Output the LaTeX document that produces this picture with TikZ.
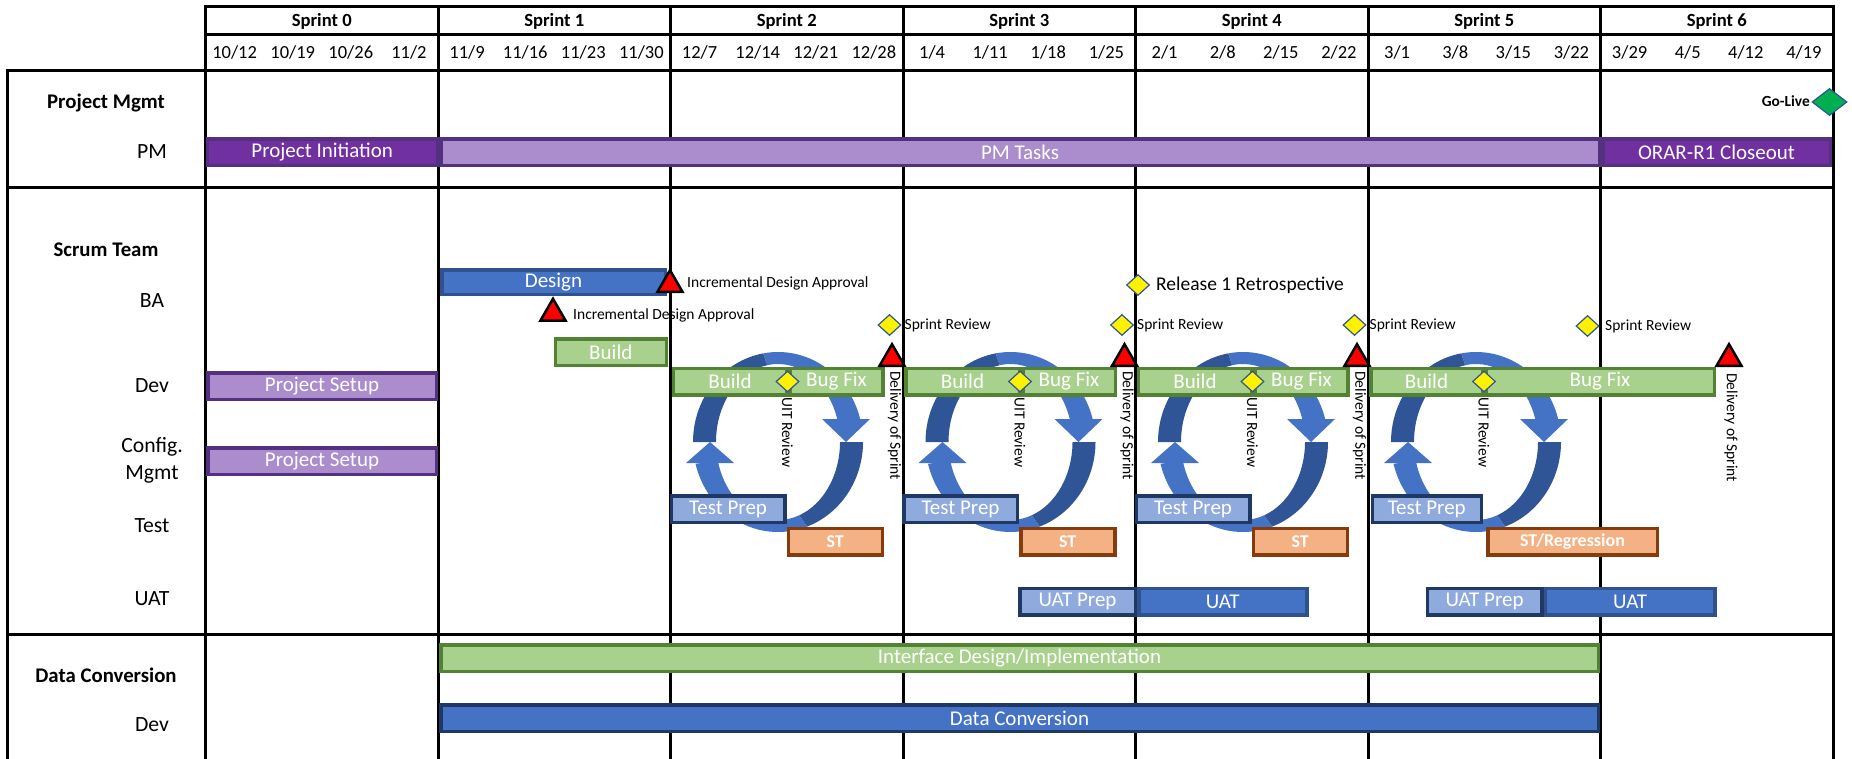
\documentclass[tikz,border=0pt]{standalone}
\usepackage{fontspec}
\setmainfont{Carlito}
\usetikzlibrary{shapes.geometric}
\definecolor{pmdark}{RGB}{112,48,160}
\definecolor{pmlight}{RGB}{171,140,204}
\definecolor{pmline}{RGB}{84,48,128}
\definecolor{bablue}{RGB}{68,114,196}
\definecolor{baline}{RGB}{47,82,143}
\definecolor{prepblue}{RGB}{143,170,220}
\definecolor{navy}{RGB}{32,56,100}
\definecolor{devgreen}{RGB}{169,209,142}
\definecolor{devline}{RGB}{84,130,53}
\definecolor{storange}{RGB}{244,177,131}
\definecolor{stline}{RGB}{132,60,12}
\definecolor{loopdark}{RGB}{47,85,151}
\definecolor{golive}{RGB}{0,176,80}
\begin{document}
\begin{tikzpicture}[x=1pt,y=1pt]
	\tikzstyle{every node}+=[inner sep=0pt]
	\tikzstyle{rule}=[black, line width=3pt, line cap=rect]
	\tikzstyle{bar}=[draw, line width=3.5pt, minimum height=26.5pt, text=white, font={\fontsize{21}{24}\selectfont}]
	\tikzstyle{purplebar}=[bar, fill=pmdark, draw=pmline]
	\tikzstyle{lilacbar}=[bar, fill=pmlight, draw=pmline]
	\tikzstyle{bluebar}=[bar, fill=bablue, draw=baline]
	\tikzstyle{greenbar}=[bar, fill=devgreen, draw=devline]
	\tikzstyle{prepbar}=[bar, fill=prepblue, draw=navy]
	\tikzstyle{stbar}=[bar, fill=storange, draw=stline, font={\fontsize{18}{21}\selectfont\bfseries}]
	\tikzstyle{milestone}=[regular polygon, regular polygon sides=3, draw=black, line width=2.5pt, fill=red, minimum size=29pt]
	\tikzstyle{gate}=[diamond, draw=loopdark, line width=1.2pt, fill=yellow, minimum width=23pt, minimum height=21pt]
	\tikzstyle{sprint}=[font={\fontsize{18.6}{22}\selectfont\bfseries}]
	\tikzstyle{week}=[font={\fontsize{18.5}{22}\selectfont}]
	\tikzstyle{team}=[font={\fontsize{20.8}{24}\selectfont\bfseries}]
	\tikzstyle{role}=[font={\fontsize{21.7}{27}\selectfont}]
	\tikzstyle{note}=[anchor=west, font={\fontsize{15.5}{18}\selectfont}]
	\tikzstyle{vnote}=[note, rotate=-90]
	\useasboundingbox (0,0) rectangle (1852,-758);
	\fill [white] (0,0) rectangle (1852,-758);
	% grid
	\draw [rule] (205.5,-6) -- (1833,-6);
	\draw [rule] (205.5,-34) -- (1833,-34);
	\draw [rule] (7,-70) -- (1833,-70);
	\draw [rule] (7,-187) -- (1833,-187);
	\draw [rule] (7,-634) -- (1833,-634);
	\draw [rule] (7,-70) -- (7,-760);
	\draw [rule] (205.5,-6) -- (205.5,-760);
	\draw [rule] (438,-6) -- (438,-760);
	\draw [rule] (670.5,-6) -- (670.5,-760);
	\draw [rule] (903,-6) -- (903,-760);
	\draw [rule] (1135.5,-6) -- (1135.5,-760);
	\draw [rule] (1368,-6) -- (1368,-760);
	\draw [rule] (1600.5,-6) -- (1600.5,-760);
	\draw [rule] (1833,-6) -- (1833,-760);
	% header
	\node [sprint] (sp0) at (321.75,-21) {Sprint 0};
	\node [sprint] (sp1) at (554.25,-21) {Sprint 1};
	\node [sprint] (sp2) at (786.75,-21) {Sprint 2};
	\node [sprint] (sp3) at (1019.25,-21) {Sprint 3};
	\node [sprint] (sp4) at (1251.75,-21) {Sprint 4};
	\node [sprint] (sp5) at (1484.25,-21) {Sprint 5};
	\node [sprint] (sp6) at (1716.75,-21) {Sprint 6};
	\node [week] (wk0) at (234.6,-52) {10/12};
	\node [week] (wk1) at (292.7,-52) {10/19};
	\node [week] (wk2) at (350.8,-52) {10/26};
	\node [week] (wk3) at (408.9,-52) {11/2};
	\node [week] (wk4) at (467.1,-52) {11/9};
	\node [week] (wk5) at (525.2,-52) {11/16};
	\node [week] (wk6) at (583.3,-52) {11/23};
	\node [week] (wk7) at (641.4,-52) {11/30};
	\node [week] (wk8) at (699.6,-52) {12/7};
	\node [week] (wk9) at (757.7,-52) {12/14};
	\node [week] (wk10) at (815.8,-52) {12/21};
	\node [week] (wk11) at (873.9,-52) {12/28};
	\node [week] (wk12) at (932.1,-52) {1/4};
	\node [week] (wk13) at (990.2,-52) {1/11};
	\node [week] (wk14) at (1048.3,-52) {1/18};
	\node [week] (wk15) at (1106.4,-52) {1/25};
	\node [week] (wk16) at (1164.6,-52) {2/1};
	\node [week] (wk17) at (1222.7,-52) {2/8};
	\node [week] (wk18) at (1280.8,-52) {2/15};
	\node [week] (wk19) at (1338.9,-52) {2/22};
	\node [week] (wk20) at (1397.1,-52) {3/1};
	\node [week] (wk21) at (1455.2,-52) {3/8};
	\node [week] (wk22) at (1513.3,-52) {3/15};
	\node [week] (wk23) at (1571.4,-52) {3/22};
	\node [week] (wk24) at (1629.6,-52) {3/29};
	\node [week] (wk25) at (1687.7,-52) {4/5};
	\node [week] (wk26) at (1745.8,-52) {4/12};
	\node [week] (wk27) at (1803.9,-52) {4/19};
	% row labels
	\node [team] (pmgmt) at (106,-103) {Project Mgmt};
	\node [role] (pm) at (152,-152) {PM};
	\node [team] (scrum) at (106,-250) {Scrum Team};
	\node [role] (ba) at (152,-301) {BA};
	\node [role] (dev) at (152,-386) {Dev};
	\node [role, align=center] (cfg) at (152,-460.5) {Config.\\Mgmt};
	\node [role] (test) at (152,-526) {Test};
	\node [role] (uat) at (152,-599) {UAT};
	\node [team] (dconv) at (106,-675) {Data Conversion};
	\node [role] (dcdev) at (152,-725) {Dev};
	% project mgmt
	\node [purplebar, minimum width=230pt] (pinit) at (322.25,-152) {Project Initiation};
	\node [lilacbar, minimum width=1158.5pt] (pmtasks) at (1020,-152) {PM Tasks};
	\node [purplebar, minimum width=227.5pt] (closeout) at (1716.5,-152) {ORAR-R1 Closeout};
	\node [diamond, draw=loopdark, line width=1.2pt, fill=golive, minimum width=35pt, minimum height=27pt] (golive) at (1829.5,-102) {};
	\node [anchor=east, font={\fontsize{15.4}{18}\selectfont\bfseries}] (golivenote) at (1810,-101) {Go-Live};
	% sprint 1
	\node [bluebar, minimum width=223.5pt, minimum height=24.5pt] (design) at (553.5,-282) {Design};
	\node [milestone] (idapp1) at (670,-284.7) {};
	\node [note] (idnote1) at (687,-283) {Incremental Design Approval};
	\node [milestone] (idapp2) at (553,-313.3) {};
	\node [note] (idnote2) at (573,-315) {Incremental Design Approval};
	\node [greenbar, minimum width=111pt] (build1) at (610.8,-352) {Build};
	\node [lilacbar, minimum width=228.5pt] (devsetup) at (322,-386) {Project Setup};
	\node [lilacbar, minimum width=228.5pt] (cfgsetup) at (322,-461) {Project Setup};
	\node [gate] (retro) at (1138,-285) {};
	\node [note, font={\fontsize{19.5}{22}\selectfont}] (retronote) at (1156,-285) {Release 1 Retrospective};
	% sprint loops
	\coordinate (loop2) at (778,-442);
	\coordinate (loop3) at (1010.5,-442);
	\coordinate (loop4) at (1243,-442);
	\coordinate (loop5) at (1476,-442);
	\fill [loopdark] ([shift={(180:85 and 90)}]loop2) arc [start angle=180, end angle=100, x radius=85, y radius=90] -- ([shift={(100:62 and 78)}]loop2) arc [start angle=100, end angle=180, x radius=62, y radius=78] -- cycle;
	\fill [bablue] ([shift={(100:85 and 90)}]loop2) arc [start angle=100, end angle=15, x radius=85, y radius=90] -- ([shift={(15:62 and 78)}]loop2) arc [start angle=15, end angle=100, x radius=62, y radius=78] -- cycle;
	\fill [bablue] ([shift={(44,23)}]loop2) -- ([shift={(92,23)}]loop2) -- ([shift={(68,0)}]loop2) -- cycle;
	\fill [loopdark] ([shift={(0:85 and 90)}]loop2) arc [start angle=0, end angle=-70, x radius=85, y radius=90] -- ([shift={(-70:62 and 78)}]loop2) arc [start angle=-70, end angle=0, x radius=62, y radius=78] -- cycle;
	\fill [bablue] ([shift={(-70:85 and 90)}]loop2) arc [start angle=-70, end angle=-166, x radius=85, y radius=90] -- ([shift={(-166:62 and 78)}]loop2) arc [start angle=-166, end angle=-70, x radius=62, y radius=78] -- cycle;
	\fill [bablue] ([shift={(-92,-21)}]loop2) -- ([shift={(-44,-21)}]loop2) -- ([shift={(-68,0)}]loop2) -- cycle;
	\fill [loopdark] ([shift={(180:85 and 90)}]loop3) arc [start angle=180, end angle=100, x radius=85, y radius=90] -- ([shift={(100:62 and 78)}]loop3) arc [start angle=100, end angle=180, x radius=62, y radius=78] -- cycle;
	\fill [bablue] ([shift={(100:85 and 90)}]loop3) arc [start angle=100, end angle=15, x radius=85, y radius=90] -- ([shift={(15:62 and 78)}]loop3) arc [start angle=15, end angle=100, x radius=62, y radius=78] -- cycle;
	\fill [bablue] ([shift={(44,23)}]loop3) -- ([shift={(92,23)}]loop3) -- ([shift={(68,0)}]loop3) -- cycle;
	\fill [loopdark] ([shift={(0:85 and 90)}]loop3) arc [start angle=0, end angle=-70, x radius=85, y radius=90] -- ([shift={(-70:62 and 78)}]loop3) arc [start angle=-70, end angle=0, x radius=62, y radius=78] -- cycle;
	\fill [bablue] ([shift={(-70:85 and 90)}]loop3) arc [start angle=-70, end angle=-166, x radius=85, y radius=90] -- ([shift={(-166:62 and 78)}]loop3) arc [start angle=-166, end angle=-70, x radius=62, y radius=78] -- cycle;
	\fill [bablue] ([shift={(-92,-21)}]loop3) -- ([shift={(-44,-21)}]loop3) -- ([shift={(-68,0)}]loop3) -- cycle;
	\fill [loopdark] ([shift={(180:85 and 90)}]loop4) arc [start angle=180, end angle=100, x radius=85, y radius=90] -- ([shift={(100:62 and 78)}]loop4) arc [start angle=100, end angle=180, x radius=62, y radius=78] -- cycle;
	\fill [bablue] ([shift={(100:85 and 90)}]loop4) arc [start angle=100, end angle=15, x radius=85, y radius=90] -- ([shift={(15:62 and 78)}]loop4) arc [start angle=15, end angle=100, x radius=62, y radius=78] -- cycle;
	\fill [bablue] ([shift={(44,23)}]loop4) -- ([shift={(92,23)}]loop4) -- ([shift={(68,0)}]loop4) -- cycle;
	\fill [loopdark] ([shift={(0:85 and 90)}]loop4) arc [start angle=0, end angle=-70, x radius=85, y radius=90] -- ([shift={(-70:62 and 78)}]loop4) arc [start angle=-70, end angle=0, x radius=62, y radius=78] -- cycle;
	\fill [bablue] ([shift={(-70:85 and 90)}]loop4) arc [start angle=-70, end angle=-166, x radius=85, y radius=90] -- ([shift={(-166:62 and 78)}]loop4) arc [start angle=-166, end angle=-70, x radius=62, y radius=78] -- cycle;
	\fill [bablue] ([shift={(-92,-21)}]loop4) -- ([shift={(-44,-21)}]loop4) -- ([shift={(-68,0)}]loop4) -- cycle;
	\fill [loopdark] ([shift={(180:85 and 90)}]loop5) arc [start angle=180, end angle=100, x radius=85, y radius=90] -- ([shift={(100:62 and 78)}]loop5) arc [start angle=100, end angle=180, x radius=62, y radius=78] -- cycle;
	\fill [bablue] ([shift={(100:85 and 90)}]loop5) arc [start angle=100, end angle=15, x radius=85, y radius=90] -- ([shift={(15:62 and 78)}]loop5) arc [start angle=15, end angle=100, x radius=62, y radius=78] -- cycle;
	\fill [bablue] ([shift={(44,23)}]loop5) -- ([shift={(92,23)}]loop5) -- ([shift={(68,0)}]loop5) -- cycle;
	\fill [loopdark] ([shift={(0:85 and 90)}]loop5) arc [start angle=0, end angle=-70, x radius=85, y radius=90] -- ([shift={(-70:62 and 78)}]loop5) arc [start angle=-70, end angle=0, x radius=62, y radius=78] -- cycle;
	\fill [bablue] ([shift={(-70:85 and 90)}]loop5) arc [start angle=-70, end angle=-166, x radius=85, y radius=90] -- ([shift={(-166:62 and 78)}]loop5) arc [start angle=-166, end angle=-70, x radius=62, y radius=78] -- cycle;
	\fill [bablue] ([shift={(-92,-21)}]loop5) -- ([shift={(-44,-21)}]loop5) -- ([shift={(-68,0)}]loop5) -- cycle;
	% sprint 2
	\node [greenbar, minimum width=113.5pt] (build2) at (730,-381.5) {Build};
	\node [greenbar, minimum width=92.5pt] (bugfix2) at (836.5,-381.5) {Bug Fix};
	\node [gate] (uit2) at (787.5,-381.5) {};
	\node [vnote] (uitnote2) at (787.5,-397) {UIT Review};
	\node [gate] (review2) at (889.5,-325) {};
	\node [note] (reviewnote2) at (904.5,-325) {Sprint Review};
	\node [milestone] (deliv2) at (892,-358.7) {};
	\node [vnote] (delivnote2) at (894.5,-371) {Delivery of Sprint};
	\node [prepbar, minimum width=113.5pt] (prep2) at (728,-509) {Test Prep};
	\node [stbar, minimum width=94pt] (st2) at (835.25,-541.5) {ST};
	% sprint 3
	\node [greenbar, minimum width=113.5pt] (build3) at (962.5,-381.5) {Build};
	\node [greenbar, minimum width=92.5pt] (bugfix3) at (1069,-381.5) {Bug Fix};
	\node [gate] (uit3) at (1020,-381.5) {};
	\node [vnote] (uitnote3) at (1020,-397) {UIT Review};
	\node [gate] (review3) at (1122,-325) {};
	\node [note] (reviewnote3) at (1137,-325) {Sprint Review};
	\node [milestone] (deliv3) at (1124.5,-358.7) {};
	\node [vnote] (delivnote3) at (1127,-371) {Delivery of Sprint};
	\node [prepbar, minimum width=113.5pt] (prep3) at (960.5,-509) {Test Prep};
	\node [stbar, minimum width=94pt] (st3) at (1067.75,-541.5) {ST};
	\node [prepbar, minimum width=115.5pt] (uatprep3) at (1077.5,-601.5) {UAT Prep};
	\node [bluebar, minimum width=168pt] (uat3) at (1222.8,-601.5) {UAT};
	% sprint 4
	\node [greenbar, minimum width=113.5pt] (build4) at (1195,-381.5) {Build};
	\node [greenbar, minimum width=92.5pt] (bugfix4) at (1301.5,-381.5) {Bug Fix};
	\node [gate] (uit4) at (1252.5,-381.5) {};
	\node [vnote] (uitnote4) at (1252.5,-397) {UIT Review};
	\node [gate] (review4) at (1354.5,-325) {};
	\node [note] (reviewnote4) at (1369.5,-325) {Sprint Review};
	\node [milestone] (deliv4) at (1357,-358.7) {};
	\node [vnote] (delivnote4) at (1359.5,-371) {Delivery of Sprint};
	\node [prepbar, minimum width=113.5pt] (prep4) at (1193,-509) {Test Prep};
	\node [stbar, minimum width=94pt] (st4) at (1300.25,-541.5) {ST};
	% sprint 5
	\node [greenbar, minimum width=111.5pt] (build5) at (1426.5,-381.5) {Build};
	\node [greenbar, minimum width=228.5pt] (bugfix5) at (1600,-381.5) {Bug Fix};
	\node [gate] (uit5) at (1484,-381.5) {};
	\node [vnote] (uitnote5) at (1484,-397) {UIT Review};
	\node [gate] (review5) at (1587.5,-326) {};
	\node [note] (reviewnote5) at (1605,-326) {Sprint Review};
	\node [milestone] (deliv5) at (1729,-358.7) {};
	\node [vnote] (delivnote5) at (1731,-373) {Delivery of Sprint};
	\node [prepbar, minimum width=109pt] (prep5) at (1426.75,-509) {Test Prep};
	\node [stbar, minimum width=169.5pt] (st5) at (1572.5,-541.5) {ST/Regression};
	\node [prepbar, minimum width=114.7pt] (uatprep5) at (1484.6,-601.5) {UAT Prep};
	\node [bluebar, minimum width=169.3pt] (uat5) at (1630.1,-601.5) {UAT};
	% data conversion
	\node [greenbar, minimum width=1157.5pt] (iface) at (1019.5,-658) {Interface Design/Implementation};
	\node [bluebar, draw=navy, minimum width=1157.5pt] (dcbar) at (1019.5,-718) {Data Conversion};
\end{tikzpicture}
\end{document}
